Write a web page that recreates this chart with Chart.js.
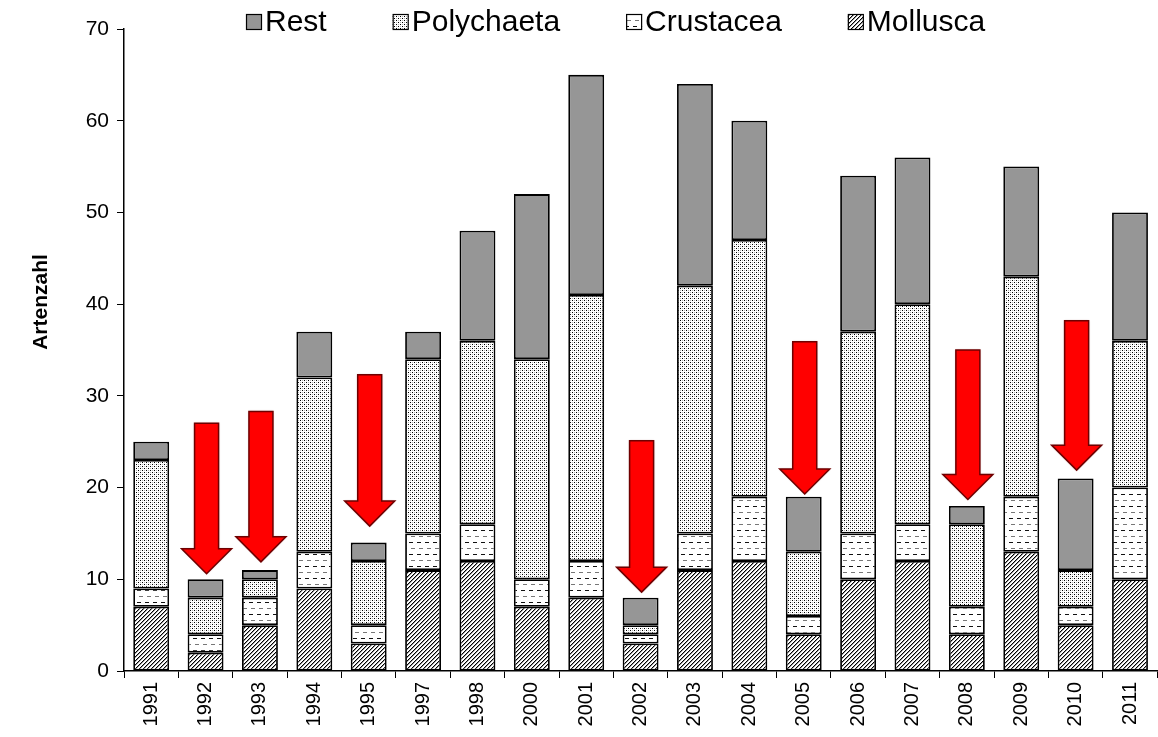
<!DOCTYPE html>
<html>
<head>
<meta charset="utf-8">
<title>Artenzahl</title>
<script src="https://cdn.jsdelivr.net/npm/chart.js@4.4.0/dist/chart.umd.min.js"></script>
<style>
  html, body { margin: 0; padding: 0; background: #fff; }
  #wrap { width: 1158px; height: 737px; }
</style>
</head>
<body>
<div id="wrap"><canvas id="chart" width="1158" height="737"></canvas></div>
<script>
// Data
const years = ["1991", "1992", "1993", "1994", "1995", "1997", "1998", "2000", "2001", "2002",
  "2003", "2004", "2005", "2006", "2007", "2008", "2009", "2010", "2011"];
const mollusca = [7, 2, 5, 9, 3, 11, 12, 7, 8, 3, 11, 12, 4, 10, 12, 4, 13, 5, 10];
const crustacea = [2, 2, 3, 4, 2, 4, 4, 3, 4, 1, 4, 7, 2, 5, 4, 3, 6, 2, 10];
const polychaeta = [14, 4, 2, 19, 7, 19, 20, 24, 29, 1, 27, 28, 7, 22, 24, 9, 24, 4, 16];
const rest = [2, 2, 1, 5, 2, 3, 12, 18, 24, 3, 22, 13, 6, 17, 16, 2, 12, 10, 14];

// red arrows (start and tip, in Artenzahl units)
const arrowYears = ["1992", "1993", "1995", "2002", "2005", "2008", "2010"];
const arrowFrom = [27, 28.3, 32.3, 25.1, 35.9, 35, 38.2];
const arrowTo = [10.6, 11.9, 15.8, 8.6, 19.3, 18.7, 21.9];

const FONT = "'Liberation Sans', Arial, sans-serif";

// Fill patterns
function makePattern(kind) {
  const c = document.createElement("canvas");
  const g = c.getContext("2d");
  if (kind === "hatch") {
    c.width = 4; c.height = 4;
    g.fillStyle = "#fff"; g.fillRect(0, 0, 4, 4);
    for (let i = 0; i < 4; i++) {
      g.fillStyle = "#000"; g.fillRect(i, 3 - i, 1, 1);
      g.fillStyle = "#999"; g.fillRect(i, (4 - i) % 4, 1, 1);
    }
  } else if (kind === "dash") {
    c.width = 8; c.height = 12;
    g.fillStyle = "#fff"; g.fillRect(0, 0, 8, 12);
    g.fillStyle = "#111"; g.fillRect(1, 2, 4, 1);
    g.fillStyle = "#777"; g.fillRect(3, 8, 4, 1);
  } else if (kind === "dots") {
    c.width = 4; c.height = 4;
    g.fillStyle = "#fff"; g.fillRect(0, 0, 4, 4);
    g.fillStyle = "#000"; g.fillRect(0, 0, 1, 1); g.fillRect(2, 2, 1, 1);
    g.fillStyle = "#b4b4b4"; g.fillRect(2, 0, 1, 1); g.fillRect(0, 2, 1, 1);
  }
  return g.createPattern(c, "repeat");
}

const fillMollusca = makePattern("hatch");
const fillCrustacea = makePattern("dash");
const fillPolychaeta = makePattern("dots");
const fillRest = "#969696";

// Legend drawn inside the plot, top
const topLegend = {
  id: "topLegend",
  afterDraw(chart) {
    const ctx = chart.ctx;
    const items = [...chart.data.datasets].reverse();
    let x = 246;
    const y = 22;
    ctx.save();
    ctx.font = "30px " + FONT;
    ctx.textBaseline = "middle";
    ctx.textAlign = "left";
    items.forEach((ds) => {
      ctx.fillStyle = ds.backgroundColor;
      ctx.fillRect(x, y - 8, 16, 16);
      ctx.strokeStyle = "#000";
      ctx.lineWidth = 1.2;
      ctx.strokeRect(x + 0.5, y - 7.5, 15, 15);
      ctx.fillStyle = "#000";
      ctx.fillText(ds.label, x + 19, y + 1);
      x += 19 + ctx.measureText(ds.label).width + 66;
    });
    ctx.restore();
  },
};

// y axis title, placed a bit above the middle like the original
const yTitle = {
  id: "yTitle",
  afterDraw(chart) {
    const ctx = chart.ctx;
    ctx.save();
    ctx.translate(41, 302);
    ctx.rotate(-Math.PI / 2);
    ctx.font = "bold 21px " + FONT;
    ctx.fillStyle = "#000";
    ctx.textAlign = "center";
    ctx.textBaseline = "middle";
    ctx.fillText("Artenzahl", 0, 0);
    ctx.restore();
  },
};

// Red arrows pointing down onto bars
const arrows = {
  id: "arrows",
  afterDatasetsDraw(chart) {
    const ctx = chart.ctx;
    const xs = chart.scales.x;
    const ys = chart.scales.y;
    ctx.save();
    arrowYears.forEach((yr, i) => {
      const cx = xs.getPixelForValue(years.indexOf(yr)) + 1;
      const y0 = ys.getPixelForValue(arrowFrom[i]);
      const y1 = ys.getPixelForValue(arrowTo[i]);
      const shaft = 12, head = 25, headH = 25;
      ctx.beginPath();
      ctx.moveTo(cx - shaft, y0);
      ctx.lineTo(cx + shaft, y0);
      ctx.lineTo(cx + shaft, y1 - headH);
      ctx.lineTo(cx + head, y1 - headH);
      ctx.lineTo(cx, y1);
      ctx.lineTo(cx - head, y1 - headH);
      ctx.lineTo(cx - shaft, y1 - headH);
      ctx.closePath();
      ctx.shadowColor = "rgba(120,0,0,0.45)";
      ctx.shadowBlur = 2;
      ctx.fillStyle = "#ff0000";
      ctx.fill();
      ctx.shadowBlur = 0;
      ctx.strokeStyle = "#6e0000";
      ctx.lineWidth = 1.5;
      ctx.stroke();
    });
    ctx.restore();
  },
};

function barSet(label, data, fill) {
  return {
    label: label,
    data: data,
    backgroundColor: fill,
    borderColor: "#000",
    borderWidth: 1.8,
    borderSkipped: false,
    barPercentage: 0.66,
    categoryPercentage: 1,
  };
}

const ctx = document.getElementById("chart").getContext("2d");
const chart = new Chart(ctx, {
  type: "bar",
  data: {
    labels: years,
    datasets: [
      barSet("Mollusca", mollusca, fillMollusca),
      barSet("Crustacea", crustacea, fillCrustacea),
      barSet("Polychaeta", polychaeta, fillPolychaeta),
      barSet("Rest", rest, fillRest),
    ],
  },
  options: {
    responsive: false,
    animation: false,
    devicePixelRatio: 1,
    layout: { padding: { top: 29, right: 0, left: 0, bottom: 0 } },
    plugins: {
      legend: { display: false },
      tooltip: { enabled: false },
    },
    scales: {
      x: {
        stacked: true,
        grid: { drawOnChartArea: false, color: "#000", tickLength: 7, lineWidth: 1 },
        border: { color: "#000", width: 1.5 },
        ticks: {
          color: "#000",
          font: { family: FONT, size: 20 },
          minRotation: 90,
          maxRotation: 90,
          autoSkip: false,
          padding: 4,
        },
        afterFit(scale) { scale.height = 66; },
      },
      y: {
        stacked: true,
        min: 0,
        max: 70,
        grid: { drawOnChartArea: false, color: "#000", tickLength: 7, lineWidth: 1 },
        border: { color: "#000", width: 1.5 },
        ticks: {
          stepSize: 10,
          color: "#000",
          font: { family: FONT, size: 21 },
          padding: 8,
        },
        afterFit(scale) { scale.width = 124; },
      },
    },
  },
  plugins: [arrows, topLegend, yTitle],
});
</script>
</body>
</html>
